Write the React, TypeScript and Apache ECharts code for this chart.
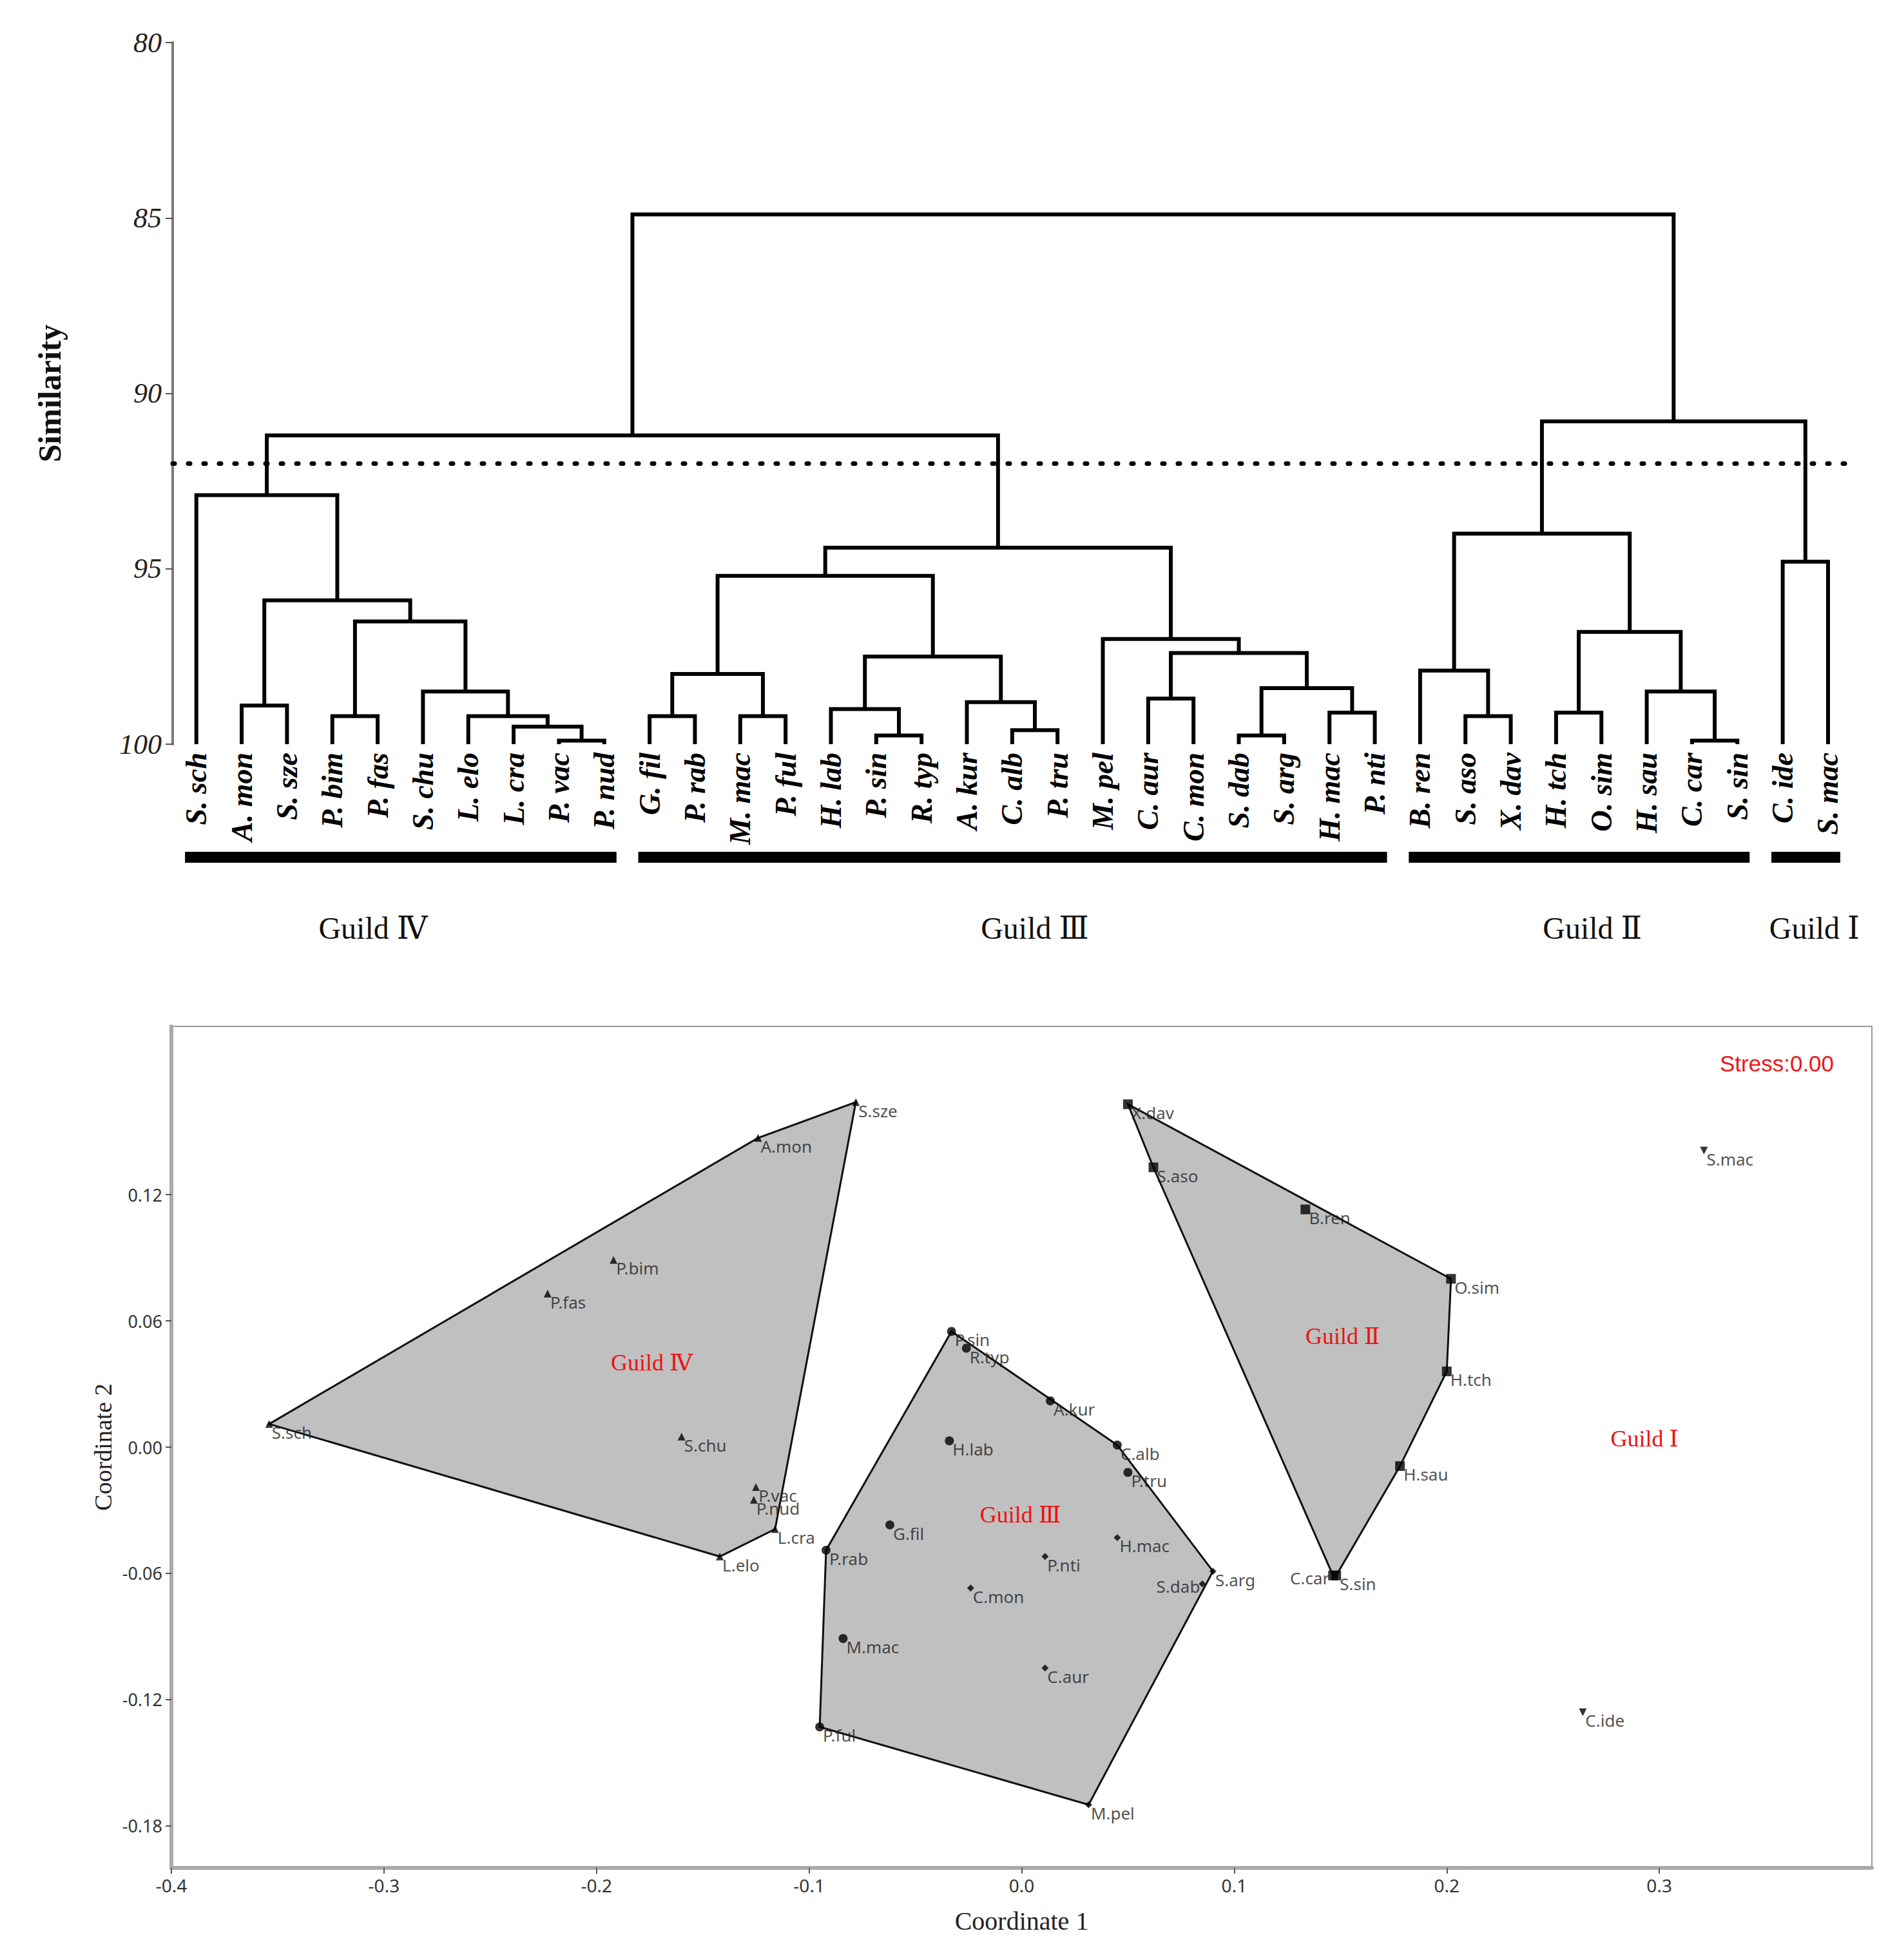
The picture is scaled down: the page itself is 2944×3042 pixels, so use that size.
import React, { useEffect, useRef } from "react";
import * as echarts from "echarts";

// ---------- Dendrogram data ----------
const leafCodes = [
  "S.sch", "A.mon", "S.sze", "P.bim", "P.fas", "S.chu", "L.elo", "L.cra", "P.vac", "P.nud",
  "G.fil", "P.rab", "M.mac", "P.ful", "H.lab", "P.sin", "R.typ", "A.kur", "C.alb", "P.tru",
  "M.pel", "C.aur", "C.mon", "S.dab", "S.arg", "H.mac", "P.nti",
  "B.ren", "S.aso", "X.dav", "H.tch", "O.sim", "H.sau", "C.car", "S.sin",
  "C.ide", "S.mac",
];

// [childA, childB, similarity]; ids >= 37 refer to earlier merges (37 = first merge, ...)
const merges: number[][] = [
  [8, 9, 99.9], [7, 37, 99.5], [6, 38, 99.2], [5, 39, 98.5], [3, 4, 99.2],
  [41, 40, 96.5], [1, 2, 98.9], [43, 42, 95.9], [0, 44, 92.9],
  [10, 11, 99.2], [12, 13, 99.2], [46, 47, 98.0], [15, 16, 99.75], [14, 49, 99.0],
  [18, 19, 99.6], [17, 51, 98.8], [50, 52, 97.5], [48, 53, 95.2], [21, 22, 98.7],
  [23, 24, 99.75], [25, 26, 99.1], [56, 57, 98.4], [55, 58, 97.4], [20, 59, 97.0],
  [54, 60, 94.4], [45, 61, 91.2],
  [28, 29, 99.2], [27, 63, 97.9], [30, 31, 99.1], [33, 34, 99.9], [32, 66, 98.5],
  [65, 67, 96.8], [64, 68, 94.0], [35, 36, 94.8], [69, 70, 90.8], [62, 71, 84.9],
];

const cutLevel = 92;
const guildNames = ["Guild \u2163", "Guild \u2162", "Guild \u2161", "Guild \u2160"];
const guildFirstLeaf = [0, 10, 27, 35];
const guildLastLeaf = [9, 26, 34, 36];
const guildTitleLeaf = [3.9, 18.5, 30.8, 35.7];

// ---------- NMDS data (same order as leafCodes) ----------
const coord1 = [
  -0.354, -0.124, -0.078, -0.192, -0.223, -0.16, -0.142, -0.116, -0.125, -0.126,
  -0.062, -0.092, -0.084, -0.095, -0.034, -0.033, -0.026, 0.0135, 0.045, 0.05,
  0.0315, 0.011, -0.024, 0.085, 0.09, 0.045, 0.011,
  0.1335, 0.062, 0.05, 0.2, 0.202, 0.178, 0.1465, 0.148,
  0.264, 0.321,
];
const coord2 = [
  0.011, 0.147, 0.164, 0.089, 0.073, 0.005, -0.052, -0.039, -0.019, -0.025,
  -0.037, -0.049, -0.091, -0.133, 0.003, 0.055, 0.047, 0.022, 0.001, -0.012,
  -0.17, -0.105, -0.067, -0.065, -0.059, -0.043, -0.052,
  0.113, 0.133, 0.163, 0.036, 0.08, -0.009, -0.061, -0.061,
  -0.126, 0.141,
];
const markerKind = [
  "up", "up", "up", "up", "up", "up", "up", "up", "up", "up",
  "circle", "circle", "circle", "circle", "circle", "circle", "circle", "circle", "circle", "circle",
  "diamond", "diamond", "diamond", "diamond", "diamond", "diamond", "diamond",
  "square", "square", "square", "square", "square", "square", "square", "square",
  "down", "down",
];
const labelOnLeft = ["S.dab", "C.car"];
const nmdsGuildLabelX = [-0.174, -0.0006, 0.151, 0.293];
const nmdsGuildLabelY = [0.04, -0.0322, 0.0528, 0.004];
const nmdsYTicks = [-0.18, -0.12, -0.06, 0, 0.06, 0.12];
const stressText = "Stress:0.00";

// ---------- helpers ----------
function buildLinks() {
  const nx: number[] = leafCodes.map((_, i) => i);
  const nh: number[] = leafCodes.map(() => 100);
  return merges.map(([a, b, h]) => {
    const item = [nx[a], nh[a], nx[b], nh[b], h];
    nx.push((nx[a] + nx[b]) / 2);
    nh.push(h);
    return item;
  });
}

function hullOf(g: number): number[] {
  const idx: number[] = [];
  for (let i = guildFirstLeaf[g]; i <= guildLastLeaf[g]; i++) idx.push(i);
  const pts = idx.slice().sort((a, b) => coord1[a] - coord1[b] || coord2[a] - coord2[b]);
  const cross = (o: number, a: number, b: number) =>
    (coord1[a] - coord1[o]) * (coord2[b] - coord2[o]) - (coord2[a] - coord2[o]) * (coord1[b] - coord1[o]);
  const lower: number[] = [];
  for (const p of pts) {
    while (lower.length >= 2 && cross(lower[lower.length - 2], lower[lower.length - 1], p) <= 0) lower.pop();
    lower.push(p);
  }
  const upper: number[] = [];
  for (let k = pts.length - 1; k >= 0; k--) {
    const p = pts[k];
    while (upper.length >= 2 && cross(upper[upper.length - 2], upper[upper.length - 1], p) <= 0) upper.pop();
    upper.push(p);
  }
  lower.pop();
  upper.pop();
  return lower.concat(upper);
}

const SERIF = "'Liberation Serif', 'DejaVu Serif', serif";
const SANS = "'Noto Sans', 'DejaVu Sans', sans-serif";

function buildOption(): any {
  const links = buildLinks();

  const markerDefs = [
    { key: "up", symbol: "triangle", size: 12, rotate: 0 },
    { key: "circle", symbol: "circle", size: 14, rotate: 0 },
    { key: "diamond", symbol: "diamond", size: 11, rotate: 0 },
    { key: "square", symbol: "rect", size: 15, rotate: 0 },
    { key: "down", symbol: "triangle", size: 12, rotate: 180 },
  ];

  const scatterSeries = markerDefs.map((m) => ({
    type: "scatter",
    xAxisIndex: 1,
    yAxisIndex: 1,
    symbol: m.symbol,
    symbolSize: m.size,
    symbolRotate: m.rotate,
    z: 5,
    itemStyle: { color: "#000" },
    label: {
      show: true,
      formatter: "{b}",
      position: "right",
      distance: 0,
      offset: [-2, 13],
      fontSize: 26,
      fontFamily: SANS,
      color: "#222",
    },
    data: leafCodes
      .map((name, i) => ({ i, name }))
      .filter((d) => markerKind[d.i] === m.key)
      .map((d) => {
        const item: any = { name: d.name, value: [coord1[d.i], coord2[d.i]] };
        if (labelOnLeft.indexOf(d.name) >= 0) {
          item.label = { position: "left", offset: [2, 4] };
        }
        return item;
      }),
  }));

  return {
    animation: false,
    backgroundColor: "#fff",
    grid: [
      { left: 268, top: 66, width: 2595, height: 1089, show: false },
      { left: 266, top: 1593, width: 2639, height: 1306, show: true, borderColor: "#999", borderWidth: 2 },
    ],
    xAxis: [
      { gridIndex: 0, type: "value", min: -0.522, max: 36.37, show: false },
      {
        gridIndex: 1,
        type: "value",
        min: -0.4,
        max: 0.4,
        interval: 0.1,
        axisLine: { show: true, onZero: false, lineStyle: { color: "#aaa", width: 6 } },
        axisTick: { show: true, length: 9, lineStyle: { color: "#555", width: 2 } },
        axisLabel: {
          showMaxLabel: false,
          formatter: (v: number) => (Math.abs(v) < 1e-9 ? "0.0" : v.toFixed(1)),
          fontSize: 28,
          fontFamily: SANS,
          color: "#333",
          margin: 13,
        },
        splitLine: { show: false },
        name: "Coordinate 1",
        nameLocation: "middle",
        nameGap: 62,
        nameTextStyle: { fontFamily: SERIF, fontSize: 40, color: "#222" },
      },
    ],
    yAxis: [
      {
        gridIndex: 0,
        type: "value",
        min: 80,
        max: 100,
        interval: 5,
        inverse: true,
        axisLine: { show: true, onZero: false, lineStyle: { color: "#7a7a7a", width: 4 } },
        axisTick: { show: true, length: 11, lineStyle: { color: "#555", width: 2 } },
        axisLabel: { margin: 17, fontSize: 44, fontStyle: "italic", fontFamily: SERIF, color: "#222" },
        splitLine: { show: false },
        name: "Similarity",
        nameLocation: "middle",
        nameGap: 166,
        nameTextStyle: { fontFamily: SERIF, fontWeight: "bold", fontSize: 50, color: "#111" },
      },
      {
        gridIndex: 1,
        type: "value",
        min: -0.2,
        max: 0.2,
        axisLine: { show: true, onZero: false, lineStyle: { color: "#aaa", width: 6 } },
        axisTick: { show: true, length: 9, customValues: nmdsYTicks, lineStyle: { color: "#555", width: 2 } },
        axisLabel: {
          customValues: nmdsYTicks,
          formatter: (v: number) => (Math.abs(v) < 1e-9 ? "0.00" : v.toFixed(2)),
          fontSize: 27,
          fontFamily: SANS,
          color: "#333",
          margin: 14,
        },
        splitLine: { show: false },
        name: "Coordinate 2",
        nameLocation: "middle",
        nameGap: 80,
        nameTextStyle: { fontFamily: SERIF, fontSize: 38, color: "#222" },
      },
    ],
    graphic: [
      {
        type: "text",
        left: 2669,
        top: 1633,
        style: { text: stressText, fill: "#f01414", fontSize: 35, fontFamily: "'Liberation Sans', sans-serif" },
      },
    ],
    series: [
      // dendrogram links
      {
        type: "custom",
        xAxisIndex: 0,
        yAxisIndex: 0,
        clip: false,
        silent: true,
        data: links,
        renderItem: (_p: any, api: any) => {
          const xa = api.value(0), ya = api.value(1), xb = api.value(2), yb = api.value(3), h = api.value(4);
          const pts = [api.coord([xa, ya]), api.coord([xa, h]), api.coord([xb, h]), api.coord([xb, yb])];
          return {
            type: "polyline",
            shape: { points: pts },
            style: { stroke: "#000", lineWidth: 6, fill: null, lineJoin: "miter" },
          };
        },
      },
      // cut line
      {
        type: "line",
        xAxisIndex: 0,
        yAxisIndex: 0,
        data: [[0, 100]],
        symbol: "none",
        lineStyle: { opacity: 0 },
        silent: true,
        markLine: {
          silent: true,
          symbol: "none",
          label: { show: false },
          lineStyle: { color: "#000", width: 7, type: [3, 21], cap: "round" },
          data: [{ yAxis: cutLevel }],
        },
      },
      // leaf labels
      {
        type: "custom",
        xAxisIndex: 0,
        yAxisIndex: 0,
        clip: false,
        silent: true,
        data: leafCodes.map((_, i) => [i, 100]),
        renderItem: (params: any, api: any) => {
          const p = api.coord([api.value(0), 100]);
          const txt = leafCodes[params.dataIndex].replace(".", ". ");
          return {
            type: "text",
            x: p[0],
            y: p[1] + 13,
            rotation: Math.PI / 2,
            style: {
              text: txt,
              fill: "#000",
              fontSize: 46,
              fontStyle: "italic",
              fontWeight: "bold",
              fontFamily: SERIF,
              align: "right",
              verticalAlign: "middle",
              textAlign: "right",
              textVerticalAlign: "middle",
            },
          };
        },
      },
      // guild bars + titles
      {
        type: "custom",
        xAxisIndex: 0,
        yAxisIndex: 0,
        clip: false,
        silent: true,
        data: guildFirstLeaf.map((f, g) => [f, guildLastLeaf[g]]),
        renderItem: (params: any, api: any) => {
          const g = params.dataIndex;
          const a = api.coord([api.value(0) - 0.25, 100]);
          const b = api.coord([api.value(1) + 0.27, 100]);
          const t = api.coord([guildTitleLeaf[g], 100]);
          return {
            type: "group",
            children: [
              { type: "rect", shape: { x: a[0], y: a[1] + 167, width: b[0] - a[0], height: 17 }, style: { fill: "#000" } },
              {
                type: "text",
                x: t[0],
                y: a[1] + 285,
                style: {
                  text: guildNames[g],
                  fill: "#111",
                  fontSize: 48,
                  fontFamily: SERIF,
                  align: "center",
                  verticalAlign: "middle",
                  textAlign: "center",
                  textVerticalAlign: "middle",
                },
              },
            ],
          };
        },
      },
      // NMDS hull polygons
      {
        type: "custom",
        xAxisIndex: 1,
        yAxisIndex: 1,
        clip: false,
        silent: true,
        z: 1,
        data: [[0], [1], [2]],
        renderItem: (params: any, api: any) => {
          const pts = hullOf(params.dataIndex).map((i) => api.coord([coord1[i], coord2[i]]));
          return {
            type: "polygon",
            shape: { points: pts },
            style: { fill: "#c0c0c0", stroke: "#111", lineWidth: 3 },
          };
        },
      },
      ...scatterSeries,
      // NMDS guild labels
      {
        type: "custom",
        xAxisIndex: 1,
        yAxisIndex: 1,
        clip: false,
        silent: true,
        z: 6,
        data: nmdsGuildLabelX.map((x, g) => [x, nmdsGuildLabelY[g]]),
        renderItem: (params: any, api: any) => {
          const p = api.coord([api.value(0), api.value(1)]);
          return {
            type: "text",
            x: p[0],
            y: p[1],
            style: {
              text: guildNames[params.dataIndex],
              fill: "#ee1111",
              fontSize: 36,
              fontFamily: SERIF,
              align: "center",
              verticalAlign: "middle",
              textAlign: "center",
              textVerticalAlign: "middle",
            },
          };
        },
      },
    ],
  };
}

export default function App() {
  const ref = useRef<HTMLDivElement>(null);
  useEffect(() => {
    const chart = echarts.init(ref.current as HTMLDivElement, null, { renderer: "svg" });
    chart.setOption(buildOption());
    return () => chart.dispose();
  }, []);
  return (
    <div
      ref={ref}
      style={{ position: "absolute", left: 0, top: 0, width: 2944, height: 3042, background: "#fff" }}
    />
  );
}
